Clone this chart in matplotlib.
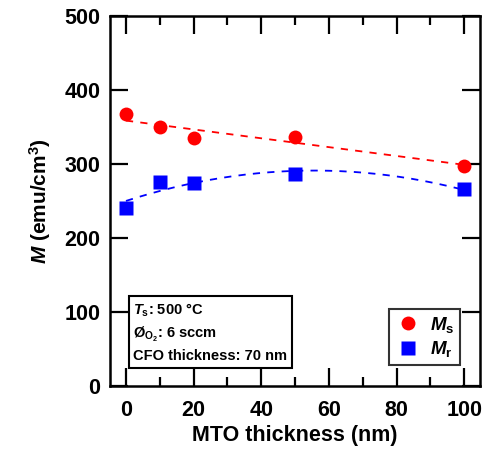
import numpy as np
import matplotlib
matplotlib.use("Agg")
import matplotlib.pyplot as plt
from matplotlib.ticker import MultipleLocator

plt.rcParams["font.family"] = ["Liberation Sans", "DejaVu Sans"]
plt.rcParams["mathtext.fontset"] = "custom"
plt.rcParams["mathtext.rm"] = "Liberation Sans:bold"
plt.rcParams["mathtext.it"] = "Liberation Sans:italic:bold"
plt.rcParams["mathtext.bf"] = "Liberation Sans:bold"

# data
mto = [0, 10, 20, 50, 100]
ms = [367, 350, 335, 336, 298]
mr = [241, 276, 275, 286, 266]

# dashed guide lines: linear fit for Ms, quadratic for Mr
xfit = np.linspace(0, 100, 200)
ms_fit = np.polyval(np.polyfit(mto, ms, 1), xfit)
mr_fit = np.polyval(np.polyfit(mto, mr, 2), xfit)

fig = plt.figure(figsize=(4.87, 4.57), dpi=100)
ax = fig.add_axes([0.226, 0.155, 0.76, 0.81])

ax.plot(xfit, ms_fit, color="red", lw=1.3, dashes=(4, 4))
ax.plot(xfit, mr_fit, color="blue", lw=1.3, dashes=(4, 4))
ax.plot(mto, ms, "o", color="red", ms=10, mec="none", label=r"$M_\mathrm{s}$")
ax.plot(mto, mr, "s", color="blue", ms=10.5, mec="none", label=r"$M_\mathrm{r}$")

ax.set_xlim(-4.7, 104.7)
ax.set_ylim(0, 500)
ax.xaxis.set_major_locator(MultipleLocator(20))
ax.xaxis.set_minor_locator(MultipleLocator(10))
ax.yaxis.set_major_locator(MultipleLocator(100))

for s in ax.spines.values():
    s.set_linewidth(1.8)
ax.tick_params(which="both", direction="in", top=True, right=True, width=1.6)
ax.tick_params(which="major", length=13, labelsize=15.5)
ax.tick_params(axis="x", which="major", pad=10)
ax.tick_params(axis="y", which="major", pad=7)
ax.tick_params(which="minor", length=6.5)
for lab in ax.get_xticklabels() + ax.get_yticklabels():
    lab.set_fontweight("bold")

ax.set_xlabel("MTO thickness (nm)", fontsize=15.5, fontweight="bold", labelpad=3)
ax.set_ylabel(r"$M$ (emu/cm$^3$)", fontsize=15, fontweight="bold", labelpad=8)

ax.text(0.063, 0.062,
        "$T_\\mathrm{s}$: 500 \u00b0C\n"
        "\u00d8$_{\\mathrm{O}_2}$: 6 sccm\n"
        "CFO thickness: 70 nm",
        transform=ax.transAxes, fontsize=10.5, fontweight="bold",
        linespacing=1.45, va="bottom", ha="left",
        bbox=dict(boxstyle="square,pad=0.3", fc="white", ec="black", lw=1.5))

leg = ax.legend(loc="lower right", bbox_to_anchor=(0.946, 0.057),
                borderaxespad=0, fontsize=13.5, frameon=True, fancybox=False,
                edgecolor="black", handletextpad=0.5, handlelength=1.4,
                borderpad=0.3, labelspacing=0.25)
leg.get_frame().set_linewidth(1.5)

fig.savefig("out.png", dpi=100)
